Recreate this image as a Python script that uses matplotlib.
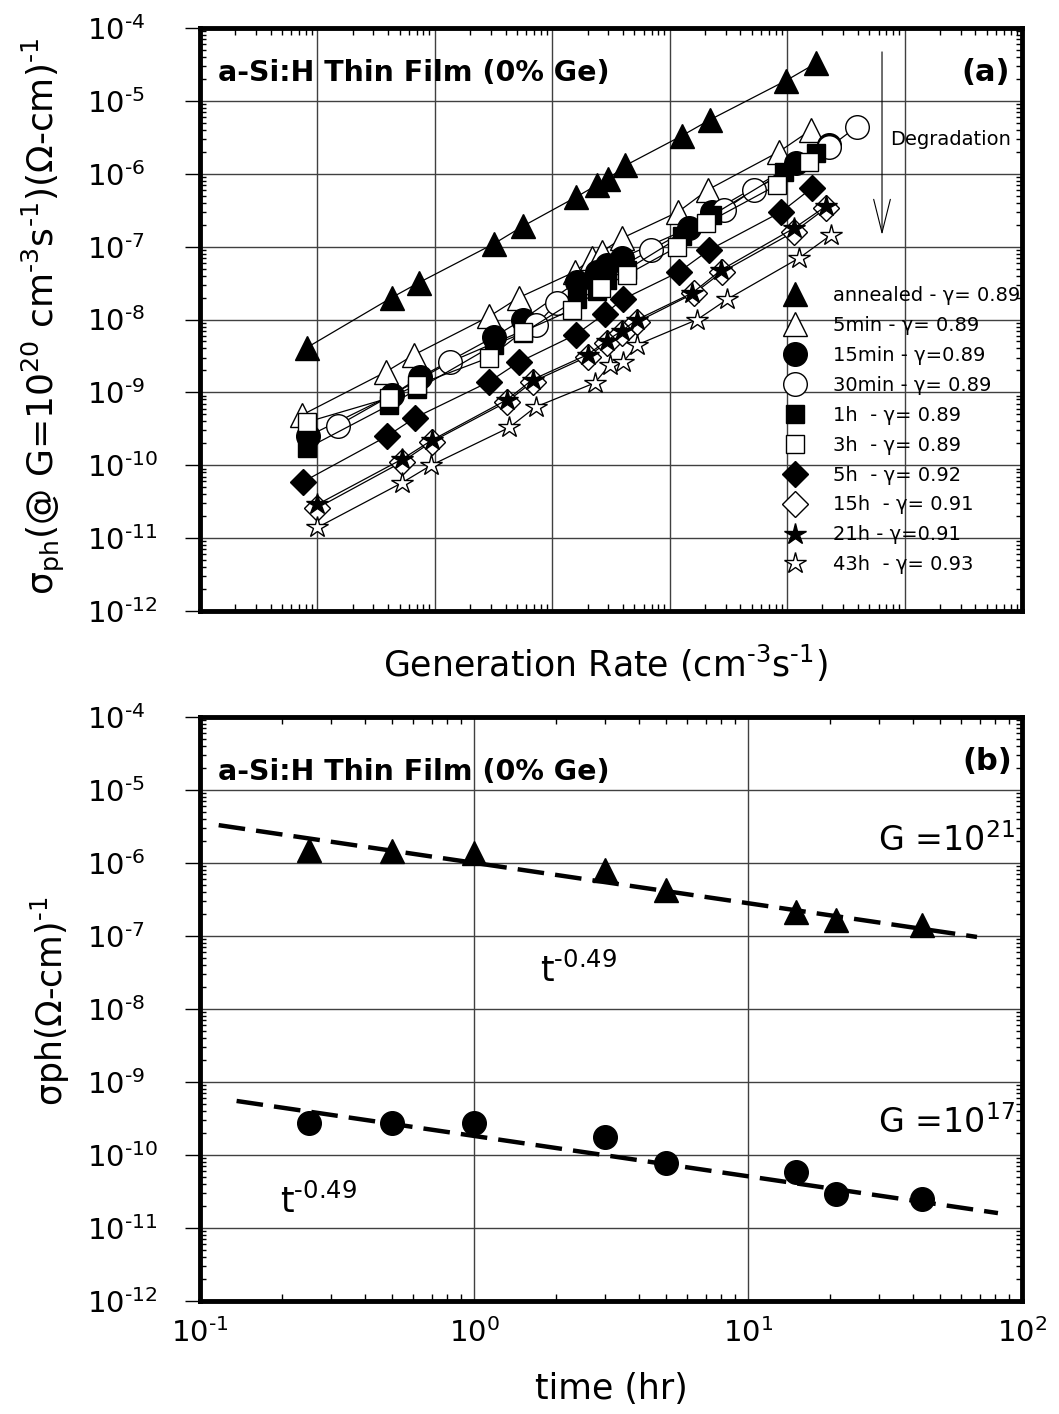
import numpy as np
import matplotlib
matplotlib.use("Agg")
import matplotlib.pyplot as plt
from matplotlib.ticker import LogLocator, NullFormatter, FuncFormatter
from matplotlib.lines import Line2D

plt.rcParams['font.family'] = ['DejaVu Sans']
plt.rcParams['mathtext.fontset'] = 'dejavusans'

HY = '\u2010'  # short hyphen used for negative exponents

# ---------------- data: panel (a) ----------------
labels_a = ["annealed - γ= 0.89", "5min - γ= 0.89", "15min - γ=0.89", "30min - γ= 0.89",
            "1h  - γ= 0.89", "3h  - γ= 0.89", "5h  - γ= 0.92", "15h  - γ= 0.91",
            "21h - γ=0.91", "43h  - γ= 0.93"]

G_annealed = [8.1e16, 4.3e17, 7.3e17, 3.2e18, 5.6e18, 1.6e19, 2.4e19, 3.0e19, 4.2e19, 1.26e20, 2.2e20, 9.8e20, 1.77e21]
S_annealed = [4.1e-9, 2.0e-8, 3.2e-8, 1.1e-7, 1.9e-7, 4.8e-7, 7.0e-7, 8.5e-7, 1.3e-6, 3.3e-6, 5.5e-6, 1.9e-5, 3.3e-5]

G_5min = [7.4e16, 3.8e17, 6.7e17, 2.9e18, 5.2e18, 1.55e19, 2.2e19, 2.65e19, 3.9e19, 1.18e20, 2.1e20, 8.5e20, 1.6e21]
S_5min = [4.9e-10, 1.9e-9, 3.3e-9, 1.1e-8, 2.0e-8, 4.5e-8, 7.0e-8, 8.5e-8, 1.3e-7, 3.0e-7, 6.0e-7, 2.0e-6, 4.0e-6]

G_15min = [8.3e16, 4.3e17, 7.4e17, 3.2e18, 5.6e18, 1.63e19, 2.4e19, 2.95e19, 3.9e19, 1.47e20, 2.3e20, 1.19e21, 2.28e21]
S_15min = [2.5e-10, 9.2e-10, 1.6e-9, 5.8e-9, 1.0e-8, 3.3e-8, 4.5e-8, 5.6e-8, 7.0e-8, 1.8e-7, 3.0e-7, 1.4e-6, 2.5e-6]

G_30min = [1.49e17, 1.34e18, 7.3e18, 1.1e19, 6.9e19, 2.9e20, 5.2e20, 2.28e21, 3.9e21]
S_30min = [3.5e-10, 2.6e-9, 8.4e-9, 1.7e-8, 9.0e-8, 3.2e-7, 6.0e-7, 2.3e-6, 4.4e-6]

G_1h = [8.1e16, 4.1e17, 7.1e17, 3.2e18, 5.6e18, 1.63e19, 2.4e19, 2.95e19, 4.3e19, 1.26e20, 2.3e20, 9.4e20, 1.77e21]
S_1h = [1.7e-10, 6.7e-10, 1.1e-9, 4.5e-9, 6.5e-9, 1.9e-8, 2.5e-8, 3.5e-8, 4.8e-8, 1.4e-7, 2.7e-7, 1.06e-6, 1.9e-6]

G_3h = [8.1e16, 4.1e17, 7.1e17, 2.9e18, 5.6e18, 1.46e19, 2.6e19, 4.3e19, 1.16e20, 2.05e20, 8.2e20, 1.54e21]
S_3h = [3.9e-10, 8.4e-10, 1.27e-9, 3.0e-9, 6.8e-9, 1.35e-8, 2.7e-8, 4.1e-8, 9.9e-8, 2.1e-7, 7.0e-7, 1.45e-6]

G_5h = [7.5e16, 3.9e17, 6.8e17, 2.9e18, 5.2e18, 1.58e19, 2.8e19, 4.0e19, 1.2e20, 2.17e20, 8.9e20, 1.63e21]
S_5h = [5.9e-11, 2.5e-10, 4.5e-10, 1.4e-9, 2.6e-9, 6.2e-9, 1.2e-8, 1.9e-8, 4.5e-8, 9.0e-8, 3.0e-7, 6.4e-7]

G_15h = [1.0e17, 5.2e17, 9.4e17, 4.1e18, 6.8e18, 2.0e19, 2.9e19, 3.9e19, 5.3e19, 1.62e20, 2.8e20, 1.15e21, 2.15e21]
S_15h = [2.6e-11, 1.1e-10, 2.1e-10, 7.4e-10, 1.4e-9, 3.1e-9, 4.8e-9, 6.5e-9, 9.3e-9, 2.3e-8, 4.5e-8, 1.6e-7, 3.4e-7]

G_21h = [1.0e17, 5.2e17, 9.4e17, 4.1e18, 6.8e18, 2.0e19, 2.9e19, 3.9e19, 5.3e19, 1.55e20, 2.75e20, 1.15e21, 2.15e21]
S_21h = [2.9e-11, 1.2e-10, 2.2e-10, 7.9e-10, 1.5e-9, 3.3e-9, 5.1e-9, 7.0e-9, 1.0e-8, 2.3e-8, 4.8e-8, 1.8e-7, 3.6e-7]

G_43h = [1.0e17, 5.2e17, 9.3e17, 4.3e18, 7.2e18, 2.3e19, 3.1e19, 4.0e19, 5.3e19, 1.72e20, 3.1e20, 1.27e21, 2.37e21]
S_43h = [1.4e-11, 5.7e-11, 1.0e-10, 3.3e-10, 6.3e-10, 1.35e-9, 2.4e-9, 2.6e-9, 4.5e-9, 1.0e-8, 1.9e-8, 7.0e-8, 1.45e-7]

# ---------------- data: panel (b) ----------------
t_hr = [0.25, 0.5, 1, 3, 5, 15, 21, 43]
sig_G21 = [1.5e-6, 1.46e-6, 1.37e-6, 8.0e-7, 4.3e-7, 2.1e-7, 1.66e-7, 1.4e-7]
sig_G17 = [2.75e-10, 2.75e-10, 2.75e-10, 1.77e-10, 7.8e-11, 5.9e-11, 2.9e-11, 2.5e-11]
t_fit21 = [0.117, 68.5]
s_fit21 = [3.3e-6, 9.7e-8]
t_fit17 = [0.136, 81.7]
s_fit17 = [5.5e-10, 1.6e-11]

series_G = [G_annealed, G_5min, G_15min, G_30min, G_1h, G_3h, G_5h, G_15h, G_21h, G_43h]
series_S = [S_annealed, S_5min, S_15min, S_30min, S_1h, S_3h, S_5h, S_15h, S_21h, S_43h]
markers = ['^', '^', 'o', 'o', 's', 's', 'D', 'D', '*', '*']
fills = ['k', 'w', 'k', 'w', 'k', 'w', 'k', 'w', 'k', 'w']
msizes = [17, 17, 17, 17, 13.5, 13.5, 13.5, 13.5, 16, 16]


def pow_fmt(v, pos):
    e = int(round(np.log10(v)))
    s = (HY + str(-e)) if e < 0 else str(e)
    return '10$^{%s}$' % s


W, H = 1059, 1414
fig = plt.figure(figsize=(W / 100, H / 100), dpi=100)
ax1 = fig.add_axes([200 / W, 1 - 611 / H, 822 / W, 583 / H])
ax2 = fig.add_axes([200 / W, 1 - 1301 / H, 822 / W, 584 / H])


def style_axes(ax):
    ax.set_yscale('log')
    ax.set_xscale('log')
    ax.set_ylim(1e-12, 1e-4)
    for sp in ax.spines.values():
        sp.set_linewidth(3.5)
    ax.yaxis.set_major_locator(LogLocator(base=10, numticks=30))
    ax.yaxis.set_major_formatter(FuncFormatter(pow_fmt))
    ax.yaxis.set_minor_locator(LogLocator(base=10, subs=np.arange(2, 10), numticks=300))
    ax.yaxis.set_minor_formatter(NullFormatter())
    ax.xaxis.set_major_locator(LogLocator(base=10, numticks=30))
    ax.xaxis.set_major_formatter(FuncFormatter(pow_fmt))
    ax.xaxis.set_minor_locator(LogLocator(base=10, subs=np.arange(2, 10), numticks=300))
    ax.xaxis.set_minor_formatter(NullFormatter())
    ax.grid(True, which='major', color='0.25', linewidth=1.0)
    ax.tick_params(axis='y', which='major', direction='out', length=11, width=1,
                   left=True, right=False, pad=70.5, labelsize=21)
    ax.tick_params(axis='y', which='minor', direction='in', length=4, width=1,
                   left=True, right=True)
    ax.tick_params(axis='x', which='major', direction='in', length=0, width=1,
                   top=True, bottom=True)
    ax.tick_params(axis='x', which='minor', direction='in', length=5, width=1,
                   top=True, bottom=True)


# ---------------- panel (a) ----------------
style_axes(ax1)
ax1.set_xlim(1e16, 1e23)
for G, S, m, fc, ms, lab in zip(series_G, series_S, markers, fills, msizes, labels_a):
    ax1.plot(G, S, color='k', lw=0.9, marker=m, ms=ms, mfc=fc, mec='k', mew=1.0, label=lab)
ax1.tick_params(axis='x', which='both', labelbottom=False)

handles, lbls = ax1.get_legend_handles_labels()
leg_handles = [Line2D([], [], linestyle='none', marker=h.get_marker(), ms=h.get_markersize(),
                      mfc=h.get_markerfacecolor(), mec='k', mew=1.0) for h in handles]
ax1.legend(leg_handles, lbls, loc='upper left', bbox_to_anchor=(0.712, 0.557), frameon=False,
           fontsize=14, borderpad=0, borderaxespad=0, labelspacing=0.56, handlelength=1.0,
           handletextpad=1.46, numpoints=1)

ax1.text(0.022, 0.923, 'a-Si:H Thin Film (0% Ge)', transform=ax1.transAxes, fontsize=20.5,
         fontweight='bold', ha='left', va='center')
ax1.text(0.985, 0.923, '(a)', transform=ax1.transAxes, fontsize=22, fontweight='bold',
         ha='right', va='center')
ax1.text(0.9136, 0.808, 'Degradation', transform=ax1.transAxes, fontsize=14,
         ha='center', va='center')
ax1.annotate('', xy=(0.8297, 0.645), xytext=(0.8297, 0.959), xycoords='axes fraction',
             textcoords='axes fraction',
             arrowprops=dict(arrowstyle='->,head_length=2.4,head_width=0.6', lw=0.8, color='k',
                             shrinkA=0, shrinkB=0))

ax1.set_ylabel('σ$_{\\rm ph}$(@ G=10$^{20}$ cm$^{%s3}$s$^{%s1}$)(Ω-cm)$^{%s1}$' % (HY, HY, HY),
               fontsize=26)
ax1.yaxis.set_label_coords(-0.162, 0.506)
ax1.set_xlabel('Generation Rate (cm$^{%s3}$s$^{%s1}$)' % (HY, HY), fontsize=25)
ax1.xaxis.set_label_coords(0.4927, -0.055)

# ---------------- panel (b) ----------------
style_axes(ax2)
ax2.set_xlim(0.1, 100)
ax2.plot(t_fit21, s_fit21, color='k', lw=3.2, ls=(0, (6, 2.5)))
ax2.plot(t_fit17, s_fit17, color='k', lw=3.2, ls=(0, (6, 2.5)))
ax2.plot(t_hr, sig_G21, linestyle='none', marker='^', ms=17, mfc='k', mec='k')
ax2.plot(t_hr, sig_G17, linestyle='none', marker='o', ms=17, mfc='k', mec='k')
ax2.tick_params(axis='x', which='major', labelsize=21, pad=12)

ax2.text(0.022, 0.906, 'a-Si:H Thin Film (0% Ge)', transform=ax2.transAxes, fontsize=20.5,
         fontweight='bold', ha='left', va='center')
ax2.text(0.988, 0.923, '(b)', transform=ax2.transAxes, fontsize=22, fontweight='bold',
         ha='right', va='center')
ax2.text(0.9915, 0.7705, 'G =10$^{21}$', transform=ax2.transAxes, fontsize=24,
         ha='right', va='baseline')
ax2.text(0.9915, 0.2877, 'G =10$^{17}$', transform=ax2.transAxes, fontsize=24,
         ha='right', va='baseline')
ax2.text(0.4136, 0.546, 't$^{%s0.49}$' % HY, transform=ax2.transAxes, fontsize=25,
         ha='left', va='baseline')
ax2.text(0.097, 0.151, 't$^{%s0.49}$' % HY, transform=ax2.transAxes, fontsize=25,
         ha='left', va='baseline')

ax2.set_ylabel('σph(Ω-cm)$^{%s1}$' % HY, fontsize=25)
ax2.yaxis.set_label_coords(-0.156, 0.513)
ax2.set_xlabel('time (hr)', fontsize=25)
ax2.xaxis.set_label_coords(0.5, -0.122)

# left-aligned y tick labels (as in the reference)
fig.canvas.draw()
for ax in (ax1, ax2):
    for lab in ax.get_yticklabels():
        lab.set_horizontalalignment('left')

fig.savefig('out.png', dpi=100)
